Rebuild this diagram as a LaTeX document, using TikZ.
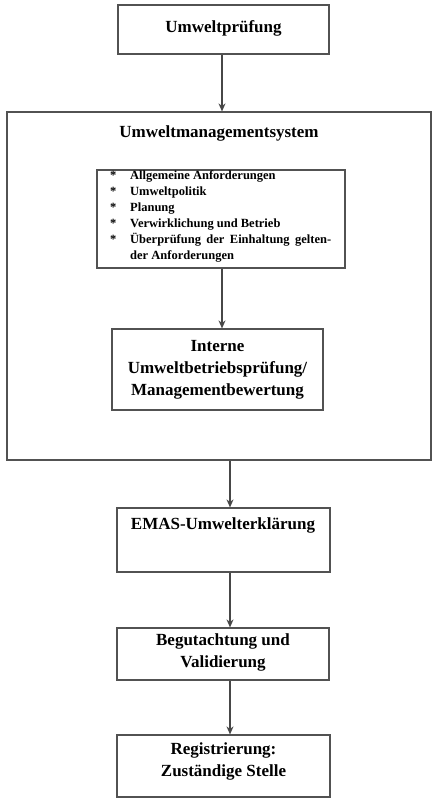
\documentclass[tikz,border=0pt]{standalone}
\usepackage{fontspec}
\setmainfont{Liberation Serif}
\usetikzlibrary{arrows.meta}
\begin{document}
\begin{tikzpicture}[x=1pt,y=-1pt,
  box/.style={draw=black!68, line width=1.2pt, rectangle, inner sep=0pt},
  lbl/.style={font=\bfseries\fontsize{17}{22}\selectfont, align=center, inner sep=0pt},
  small/.style={font=\bfseries\fontsize{12.5}{16}\selectfont, inner sep=0pt},
  arr/.style={draw=black!72, line width=1.2pt, -{Stealth[length=8pt,width=7pt]}}]
\useasboundingbox (0,0) rectangle (437,804);
% boxes
\node[box, minimum width=211pt, minimum height=49pt] (b1) at (223.5,29.5) {};
\node[lbl] (t1) at (223.5,28) {Umweltprüfung};
\node[box, minimum width=424pt, minimum height=348pt] (big) at (219,286) {};
\node[lbl] (tbig) at (219,133) {Umweltmanagementsystem};
\node[box, minimum width=248pt, minimum height=98pt] (list) at (221,219) {};
\node[small, anchor=north west, align=left] (tlist) at (110,168) {%
  \begin{tabular}{@{}p{20pt}@{}l@{}}
  {*} & Allgemeine Anforderungen\\
  {*} & Umweltpolitik\\
  {*} & Planung\\
  {*} & Verwirklichung und Betrieb\\
  {*} & \hbox to 201pt{Überprüfung\hfill der\hfill Einhaltung\hfill gelten-}\\
  {} & der Anforderungen
  \end{tabular}};
\node[box, minimum width=211pt, minimum height=81pt] (int) at (217.5,369.5) {};
\node[lbl] (tint) at (217.5,370) {Interne\\Umweltbetriebsprüfung/\\Managementbewertung};
\node[box, minimum width=213pt, minimum height=64pt] (emas) at (223.5,540) {};
\node[lbl] (temas) at (223,525) {EMAS-Umwelterklärung};
\node[box, minimum width=212pt, minimum height=52pt] (beg) at (223,654) {};
\node[lbl] (tbeg) at (223,652.5) {Begutachtung und\\Validierung};
\node[box, minimum width=213pt, minimum height=62pt] (reg) at (223.5,766) {};
\node[lbl] (treg) at (223.5,761) {Registrierung:\\Zuständige Stelle};
% arrows
\draw[arr] ([xshift=-1.5pt]b1.south) -- ([xshift=-1.5pt]b1.south |- big.north);
\draw[arr] ([xshift=1pt]list.south) -- ([xshift=1pt]list.south |- int.north);
\draw[arr] ([xshift=11pt]big.south) -- ([xshift=11pt]big.south |- emas.north);
\draw[arr] ([xshift=6.5pt]emas.south) -- ([xshift=6.5pt]emas.south |- beg.north);
\draw[arr] ([xshift=7pt]beg.south) -- ([xshift=7pt]beg.south |- reg.north);
\end{tikzpicture}
\end{document}
